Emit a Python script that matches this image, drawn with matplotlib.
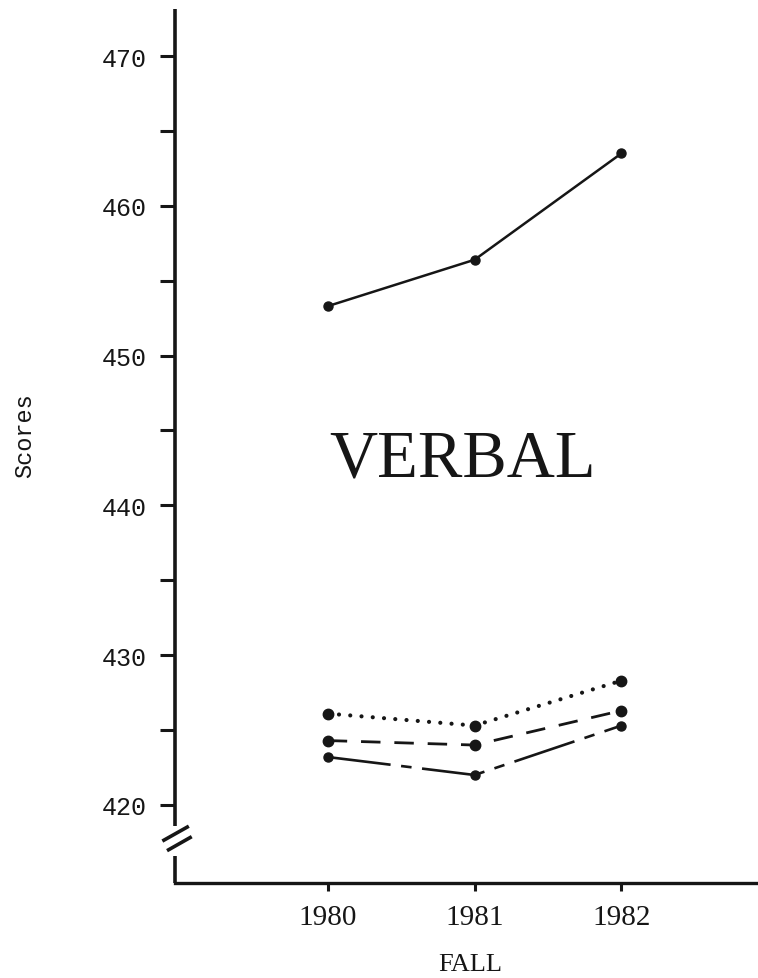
import matplotlib
matplotlib.use("Agg")
import matplotlib.pyplot as plt

# data
years = [1980, 1981, 1982]
top_solid = [453.3, 456.4, 463.5]
dotted = [426.1, 425.3, 428.3]
dashed = [424.3, 424.0, 426.3]
dashdot = [423.2, 422.0, 425.3]
ytick_vals = [420, 430, 440, 450, 460, 470]
yminor_vals = [425, 435, 445, 455, 465]

fig = plt.figure(figsize=(7.58, 9.79), dpi=100)
ax = fig.add_axes([175/758, 95/979, 583/758, 874/979])

ax.set_xlim(1978.96, 1982.93)
ax.set_ylim(414.79, 473.14)

ink = "#161616"
ax.plot(years, top_solid, color=ink, lw=1.8, marker="o", ms=6.5)
ax.plot(years, dotted, color=ink, lw=3.0, marker="o", ms=7.5,
        linestyle=(0, (0.01, 2.7)), dash_capstyle="round")
ax.plot(years, dashed, color=ink, lw=2.0, marker="o", ms=7.5,
        linestyle=(0, (7, 5)))
ax.plot(years, dashdot, color=ink, lw=1.9, marker="o", ms=6.5,
        linestyle=(0, (24, 4, 4, 4)))

# spines
for s in ["top", "right", "left"]:
    ax.spines[s].set_visible(False)
ax.spines["bottom"].set_linewidth(2.4)
ax.spines["bottom"].set_color(ink)

# left axis with a break
ax.plot([0, 0], [0.065, 1.0], transform=ax.transAxes, color=ink, lw=2.6,
        clip_on=False, solid_capstyle="butt")
ax.plot([0, 0], [0.0, 0.031], transform=ax.transAxes, color=ink, lw=2.6,
        clip_on=False, solid_capstyle="butt")
ax.plot([-0.019, 0.021], [0.049, 0.064], transform=ax.transAxes, color=ink,
        lw=2.6, clip_on=False)
ax.plot([-0.011, 0.026], [0.038, 0.052], transform=ax.transAxes, color=ink,
        lw=2.6, clip_on=False)

# ticks
ax.set_yticks(ytick_vals)
ax.set_yticklabels([str(v) for v in ytick_vals], family="Liberation Mono",
                   fontsize=18)
ax.set_yticks(yminor_vals, minor=True)
ax.tick_params(axis="y", which="both", direction="out", length=11, width=2.2,
               color=ink, pad=9, labelcolor=ink)

ax.set_xticks(years)
ax.set_xticklabels([str(y) for y in years], family="Liberation Serif",
                   fontsize=21)
ax.tick_params(axis="x", direction="out", length=6, width=2.2, color=ink,
               pad=9, labelcolor=ink)

fig.text(463/758, 1 - 460/979, "VERBAL", family="Liberation Serif",
         fontsize=48, ha="center", va="center", color=ink)
fig.text(470/758, 1 - 965/979, "FALL", family="Liberation Serif",
         fontsize=19, ha="center", va="center", color=ink)
fig.text(25/758, 1 - 436/979, "Scores", family="Liberation Mono",
         fontsize=17, ha="center", va="center", rotation=90, color=ink)

fig.savefig("out.png", dpi=100)
